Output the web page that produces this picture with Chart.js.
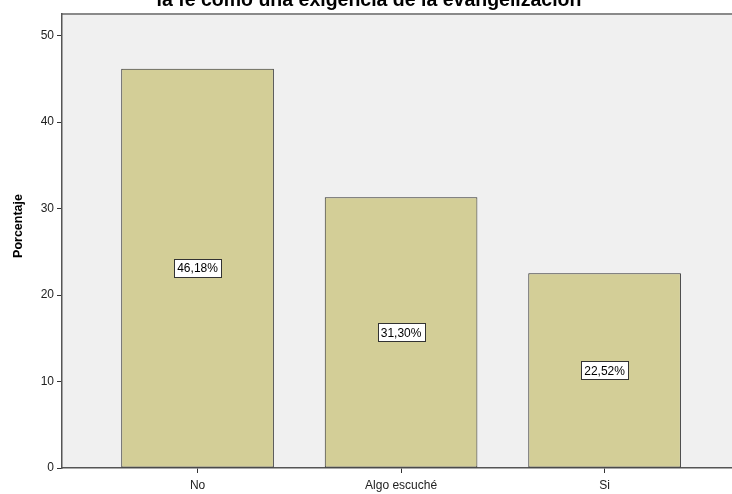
<!DOCTYPE html>
<html>
<head>
<meta charset="utf-8">
<script src="https://cdn.jsdelivr.net/npm/chart.js@4"></script>
<style>
  html, body { margin: 0; padding: 0; background: #ffffff; overflow: hidden; }
  #chart { display: block; }
</style>
</head>
<body>
<canvas id="chart" width="732" height="494"></canvas>
<script>
// valores
const categorias = ['No', 'Algo escuché', 'Si'];
const porcentajes = [46.18, 31.30, 22.52];
const etiquetas = ['46,18%', '31,30%', '22,52%'];
const yTicks = [0, 10, 20, 30, 40, 50];
const titulo = 'la fe como una exigencia de la evangelización';
const tituloY = 'Porcentaje';

const fuente = '"Liberation Sans", Arial, sans-serif';

// fondo gris del area y linea superior
const fondoPlugin = {
    id: 'fondo',
    beforeDraw(chart) {
        const { ctx, chartArea: a } = chart;
        ctx.save();
        ctx.fillStyle = '#f0f0f0';
        ctx.fillRect(a.left, a.top, a.right - a.left, a.bottom - a.top);
        ctx.strokeStyle = '#8a8a8a';
        ctx.lineWidth = 2;
        ctx.beginPath();
        ctx.moveTo(a.left, a.top);
        ctx.lineTo(a.right, a.top);
        ctx.stroke();
        ctx.restore();
    }
};

// etiquetas con recuadro blanco en el centro de cada barra
const etiquetasPlugin = {
    id: 'etiquetas',
    afterDatasetsDraw(chart) {
        const { ctx } = chart;
        const meta = chart.getDatasetMeta(0);
        ctx.save();
        ctx.font = '12px ' + fuente;
        ctx.textAlign = 'center';
        ctx.textBaseline = 'middle';
        meta.data.forEach((bar, i) => {
            const txt = etiquetas[i];
            const cx = bar.x;
            const cy = (bar.y + bar.base) / 2;
            const w = Math.round(ctx.measureText(txt).width + 6);
            const h = 18;
            const x0 = Math.round(cx - w / 2) + 0.5;
            const y0 = Math.round(cy - h / 2) + 0.5;
            ctx.fillStyle = '#ffffff';
            ctx.fillRect(x0, y0, w, h);
            ctx.strokeStyle = '#333333';
            ctx.lineWidth = 1;
            ctx.strokeRect(x0, y0, w, h);
            ctx.fillStyle = '#000000';
            ctx.fillText(txt, cx, cy + 1);
        });
        ctx.restore();
    }
};

// titulo cortado arriba y titulo del eje y
const textosPlugin = {
    id: 'textos',
    afterDraw(chart) {
        const { ctx } = chart;
        ctx.save();
        ctx.font = 'bold 19.5px ' + fuente;
        ctx.textAlign = 'center';
        ctx.textBaseline = 'alphabetic';
        ctx.fillStyle = '#000000';
        ctx.fillText(titulo, 369, 6);

        ctx.translate(19, 226);
        ctx.rotate(-Math.PI / 2);
        ctx.font = 'bold 12.5px ' + fuente;
        ctx.textBaseline = 'middle';
        ctx.fillText(tituloY, 0, 0);
        ctx.restore();
    }
};

const ctx = document.getElementById('chart').getContext('2d');
new Chart(ctx, {
    type: 'bar',
    data: {
        datasets: [{
            data: categorias.map((c, i) => ({ x: i, y: porcentajes[i] })),
            backgroundColor: '#d3ce97',
            borderColor: '#2e2e2e',
            borderWidth: 1,
            borderSkipped: false,
            categoryPercentage: 1,
            barPercentage: 0.75
        }]
    },
    options: {
        responsive: false,
        animation: false,
        layout: { padding: { top: 14, left: 0, right: 0, bottom: 0 } },
        plugins: {
            legend: { display: false },
            tooltip: { enabled: false }
        },
        scales: {
            x: {
                type: 'linear',
                offset: false,
                min: -0.666,
                max: 2.626,
                afterBuildTicks: s => { s.ticks = categorias.map((c, i) => ({ value: i })); },
                afterFit: s => { s.height = 26; },
                grid: { offset: false, drawOnChartArea: false, drawTicks: true, tickLength: 5, color: '#333333' },
                border: { display: true, color: '#555555', width: 1.5 },
                ticks: {
                    callback: v => categorias[v],
                    font: { family: fuente, size: 12 },
                    color: '#222222',
                    padding: 5,
                    maxRotation: 0
                }
            },
            y: {
                min: 0,
                max: 52.5,
                afterBuildTicks: s => { s.ticks = yTicks.map(v => ({ value: v })); },
                afterFit: s => { s.width = 62; },
                grid: { drawOnChartArea: false, drawTicks: true, tickLength: 5, color: '#333333' },
                border: { display: true, color: '#555555', width: 1.5 },
                ticks: {
                    font: { family: fuente, size: 12 },
                    color: '#222222',
                    padding: 3
                }
            }
        }
    },
    plugins: [fondoPlugin, etiquetasPlugin, textosPlugin]
});
</script>
</body>
</html>
